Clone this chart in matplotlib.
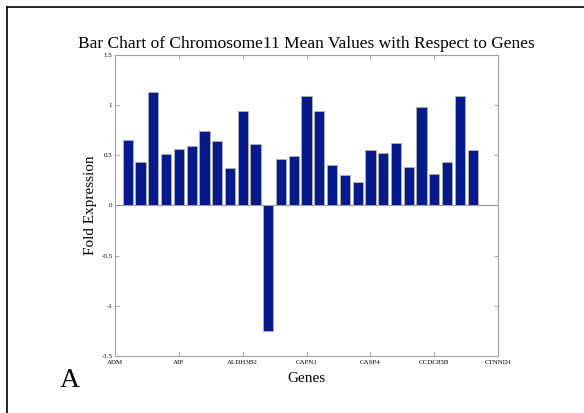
import numpy as np
import matplotlib.pyplot as plt
from matplotlib.lines import Line2D

# mean fold expression per gene (28 bars)
valores = [0.65, 0.43, 1.135, 0.51, 0.565, 0.59, 0.745, 0.64, 0.37, 0.937, 0.61,
           -1.25, 0.46, 0.49, 1.09, 0.94, 0.40, 0.305, 0.233, 0.555, 0.525, 0.62,
           0.385, 0.983, 0.315, 0.432, 1.09, 0.55]
etiquetas = ['ADM', 'AIP', 'ALDH3B2', 'CAPN1', 'CASP4', 'CCDC85B', 'CTNND1']
posiciones_etiquetas = [0, 5, 10, 15, 20, 25, 30]
yticks = [-1.5, -1, -0.5, 0, 0.5, 1, 1.5]
yticklabels = ['-1.5', '-1', '-0.5', '0', '0.5', '1', '1.5']

plt.rcParams['font.family'] = ['Liberation Serif', 'DejaVu Serif']

fig = plt.figure(figsize=(5.84, 4.13), dpi=100)
ax = fig.add_axes([0.197, 0.138, 0.656, 0.729])

x = np.arange(1, len(valores) + 1)
ax.bar(x, valores, width=0.8, color='#061a8c', edgecolor='#b0b0b0', linewidth=0.6, zorder=2)
ax.axhline(0, color='#909090', linewidth=0.8, zorder=1)

ax.set_xlim(0, 30)
ax.set_ylim(-1.5, 1.5)
ax.set_xticks(posiciones_etiquetas)
ax.set_xticklabels(etiquetas, fontsize=5)
ax.set_yticks(yticks)
ax.set_yticklabels(yticklabels, fontsize=5)
ax.tick_params(direction='in', length=3, width=0.6, color='#909090', top=True, right=True, pad=2)
ax.tick_params(axis='x', pad=3)
for s in ax.spines.values():
    s.set_color('#a0a0a0')
    s.set_linewidth(0.8)

ax.set_title('Bar Chart of Chromosome11 Mean Values with Respect to Genes', fontsize=12.5, pad=5)
ax.set_xlabel('Genes', fontsize=11, labelpad=5)
ax.set_ylabel('Fold Expression', fontsize=11, labelpad=3)

fig.text(60 / 584, 1 - 387 / 413, 'A', fontsize=20)

# borde negro solo a la izquierda y arriba
x0, y0 = 7 / 584, 1 - 7 / 413
fig.lines.append(Line2D([x0, x0], [0, y0], transform=fig.transFigure, color='black', linewidth=1.2))
fig.lines.append(Line2D([x0, 1], [y0, y0], transform=fig.transFigure, color='black', linewidth=1.2))

plt.savefig('out.png', dpi=100)
